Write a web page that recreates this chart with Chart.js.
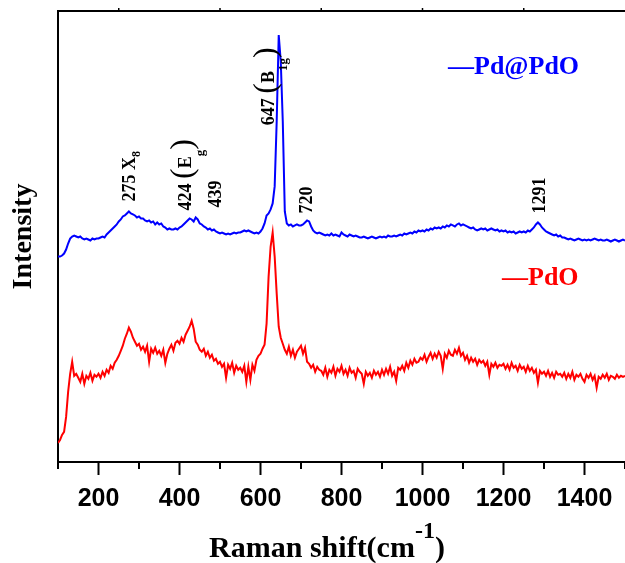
<!DOCTYPE html>
<html>
<head>
<meta charset="utf-8">
<script src="https://cdn.jsdelivr.net/npm/chart.js@4.4.1/dist/chart.umd.min.js"></script>
<style>
  html, body { margin: 0; padding: 0; background: #fff; }
  canvas { display: block; }
</style>
</head>
<body>
<canvas id="ramanChart" width="625" height="563"></canvas>
<script>
// Raman shift grid (cm-1), 5 cm-1 step from 100 to 1500
const ramanShift = [];
for (let v = 100; v <= 1500; v += 5) ramanShift.push(v);

// Pd@PdO intensity (a.u., offset trace)
const pdPdO = [
  205, 205, 206, 208, 212, 218, 223, 225, 226, 225,
  224, 225, 223, 222, 223, 222, 221, 223, 222, 223,
  223, 224, 225, 224, 227, 229, 231, 233, 235, 237,
  240, 242, 245, 246, 248, 250, 248, 247, 246, 244,
  245, 243, 243, 241, 240, 241, 239, 240, 237, 239,
  237, 238, 235, 234, 232, 233, 232, 232, 233, 232,
  234, 235, 237, 239, 241, 243, 242, 240, 244, 242,
  238, 237, 235, 234, 232, 233, 231, 232, 230, 229,
  228, 229, 228, 227, 228, 227, 228, 229, 228, 229,
  229, 230, 231, 230, 231, 230, 229, 228, 229, 228,
  230, 233, 238, 246, 248, 252, 258, 275, 340, 426,
  400, 340, 250, 238, 236, 237, 235, 236, 237, 236,
  236, 237, 239, 241, 240, 235, 231, 229, 228, 229,
  228, 227, 226, 227, 226, 228, 226, 227, 226, 225,
  229, 227, 226, 225, 227, 226, 225, 226, 225, 224,
  224, 225, 224, 223, 224, 225, 224, 223, 224, 225,
  224, 225, 224, 226, 225, 225, 226, 225, 226, 227,
  226, 228, 227, 228, 229, 228, 230, 229, 231, 230,
  231, 230, 232, 231, 233, 232, 234, 233, 234, 233,
  235, 234, 236, 235, 237, 236, 235, 237, 238, 236,
  237, 236, 235, 234, 233, 234, 232, 231, 232, 233,
  232, 233, 231, 232, 233, 232, 231, 232, 230, 231,
  230, 231, 229, 230, 229, 230, 228, 229, 230, 229,
  230, 229, 231, 230, 232, 234, 237, 239, 237, 234,
  232, 230, 229, 228, 227, 226, 227, 225, 226, 224,
  224, 223, 222, 223, 222, 221, 222, 223, 222, 221,
  222, 221, 222, 221, 222, 223, 222, 221, 222, 221,
  221, 222, 221, 220, 221, 222, 221, 220, 221, 222,
  221
];

// PdO intensity (a.u.)
const pdO = [
  19, 22, 27, 30, 45, 70, 88, 100, 86, 88,
  84, 80, 88, 78, 86, 83, 89, 81, 87, 85,
  88, 84, 90, 86, 92, 89, 96, 93, 99, 102,
  106, 111, 116, 123, 128, 134, 130, 124, 120, 116,
  118, 112, 115, 110, 116, 100, 113, 109, 114, 108,
  111, 106, 112, 99, 108, 113, 117, 111, 119, 121,
  118, 124, 120, 127, 131, 135, 141, 133, 120, 117,
  112, 110, 113, 106, 110, 104, 107, 101, 103, 98,
  100, 95, 98, 84, 97, 93, 99, 89, 96, 92,
  94, 90, 96, 80, 95, 82, 97, 91, 102, 106,
  108, 113, 117, 138, 185, 215, 229, 205, 168, 135,
  124, 118, 112, 108, 115, 106, 112, 104, 110, 113,
  116, 108, 114, 100, 98, 94, 97, 90, 95, 92,
  91, 87, 94, 85, 92, 89, 95, 86, 93, 90,
  96, 88, 92, 86, 94, 89, 91, 84, 93, 90,
  88, 78, 90, 86, 89, 84, 91, 87, 90, 85,
  92, 87, 93, 88, 95, 86, 90, 81, 94, 92,
  96, 91, 99, 94, 101, 97, 103, 99, 100, 104,
  102, 107, 100, 105, 109, 103, 108, 104, 110, 106,
  93, 108, 104, 111, 107, 106, 112, 108, 114, 106,
  109, 102, 106, 99, 104, 100, 103, 97, 102, 99,
  101, 96, 100, 87, 98, 95, 99, 94, 97, 96,
  98, 93, 97, 92, 99, 94, 96, 91, 97, 93,
  95, 90, 96, 91, 94, 89, 92, 79, 91, 88,
  90, 86, 91, 85, 89, 84, 90, 87, 88, 85,
  89, 83, 88, 84, 90, 82, 87, 85, 88, 83,
  80, 87, 84, 88, 82, 86, 74, 85, 83, 87,
  84, 88, 82, 86, 85, 83, 87, 84, 86, 85,
  86
];

const seriesNames = ["Pd@PdO", "PdO"];
const seriesColors = ["#0000ff", "#ff0000"];

// x-axis tick labels (only every other 100 is labelled)
const xLabelTicks = [200, 400, 600, 800, 1000, 1200, 1400];
const xMinorTicks = [100, 300, 500, 700, 900, 1100, 1300, 1500];
const topFrameTicks = [250, 500, 750, 1000, 1250];

// peak annotations: anchor (shift, intensity) of the label's lower end
const peakX = [278, 418, 492, 623, 715, 1292];
const peakY = [260, 251, 254, 336, 248, 248];
// kind 0 = text, 1 = subscript, 2 = large bracket, 3 = close subscript
const peakText = [
  [["275 X", 0], ["8", 3]],
  [["424 ", 0], ["(", 2], ["E", 0], ["g", 1], [")", 2]],
  [["439", 0]],
  [["647 ", 0], ["(", 2], ["B", 0], ["1g", 1], [")", 2]],
  [["720", 0]],
  [["1291", 0]],
];

const SERIF = '"Liberation Serif", "Times New Roman", serif';
const SANS = '"Liberation Sans", Arial, sans-serif';

function drawPeakLabel(ctx, cx, by, parts) {
  const fonts = ["bold 18px ", "bold 13px ", "32px ", "bold 12px "];
  const shifts = [0, 14, -3, 7];
  ctx.save();
  ctx.translate(cx, by);
  ctx.rotate(-Math.PI / 2);
  ctx.textBaseline = "middle";
  ctx.textAlign = "left";
  ctx.fillStyle = "#000";
  let pos = 0;
  parts.forEach(([t, kind]) => {
    ctx.font = fonts[kind] + SERIF;
    ctx.fillText(t, pos, shifts[kind]);
    pos += ctx.measureText(t).width;
  });
  ctx.restore();
}

const decorPlugin = {
  id: "decor",
  afterDraw(chart) {
    const { ctx, chartArea: a, scales } = chart;
    const x = scales.x;
    const y = scales.y;
    ctx.save();

    // top frame line with tiny ticks
    ctx.strokeStyle = "#000";
    ctx.lineWidth = 2;
    ctx.beginPath();
    ctx.moveTo(a.left - 1, a.top);
    ctx.lineTo(a.right, a.top);
    ctx.stroke();
    ctx.lineWidth = 1.5;
    topFrameTicks.forEach((v) => {
      const px = x.getPixelForValue(v);
      ctx.beginPath();
      ctx.moveTo(px, a.top);
      ctx.lineTo(px, a.top - 3);
      ctx.stroke();
    });

    // bottom axis tick marks: long at labelled values, short between
    ctx.lineWidth = 2;
    const tickMark = (v, len) => {
      const px = x.getPixelForValue(v);
      ctx.beginPath();
      ctx.moveTo(px, a.bottom);
      ctx.lineTo(px, a.bottom + len);
      ctx.stroke();
    };
    xLabelTicks.forEach((v) => tickMark(v, 13));
    xMinorTicks.forEach((v) => tickMark(v, 7));

    // peak labels
    peakText.forEach((parts, i) => {
      drawPeakLabel(ctx, x.getPixelForValue(peakX[i]), y.getPixelForValue(peakY[i]), parts);
    });

    // legend entries placed next to each trace
    ctx.font = "bold 26px " + SERIF;
    ctx.textBaseline = "alphabetic";
    ctx.textAlign = "left";
    ctx.fillStyle = seriesColors[0];
    ctx.fillText("\u2014" + seriesNames[0], 448, 74);
    ctx.fillStyle = seriesColors[1];
    ctx.fillText("\u2014" + seriesNames[1], 502, 285);

    // y title
    ctx.fillStyle = "#000";
    ctx.save();
    ctx.translate(24, (a.top + a.bottom) / 2);
    ctx.rotate(-Math.PI / 2);
    ctx.font = "bold 28px " + SERIF;
    ctx.textAlign = "center";
    ctx.textBaseline = "middle";
    ctx.fillText("Intensity", 0, 0);
    ctx.restore();

    // x title with superscript
    const main = "Raman shift(cm";
    const sup = "-1";
    const close = ")";
    ctx.textAlign = "left";
    ctx.textBaseline = "alphabetic";
    ctx.font = "bold 30px " + SERIF;
    const w1 = ctx.measureText(main).width;
    const w3 = ctx.measureText(close).width;
    ctx.font = "bold 24px " + SERIF;
    const w2 = ctx.measureText(sup).width;
    const sx = 327 - (w1 + w2 + w3) / 2;
    const base = 557;
    ctx.font = "bold 30px " + SERIF;
    ctx.fillText(main, sx, base);
    ctx.font = "bold 24px " + SERIF;
    ctx.fillText(sup, sx + w1, base - 19);
    ctx.font = "bold 30px " + SERIF;
    ctx.fillText(close, sx + w1 + w2, base);

    ctx.restore();
  },
};

function initChart() {
  const canvas = document.getElementById("ramanChart");
  new Chart(canvas.getContext("2d"), {
    type: "line",
    data: {
      datasets: [
        {
          label: seriesNames[0],
          data: pdPdO.map((v, i) => ({ x: ramanShift[i], y: v })),
          borderColor: seriesColors[0],
          borderWidth: 2,
          pointRadius: 0,
          tension: 0,
        },
        {
          label: seriesNames[1],
          data: pdO.map((v, i) => ({ x: ramanShift[i], y: v })),
          borderColor: seriesColors[1],
          borderWidth: 2,
          pointRadius: 0,
          tension: 0,
        },
      ],
    },
    options: {
      responsive: false,
      animation: false,
      layout: { padding: { left: 50, top: 11, right: 0, bottom: 49 } },
      plugins: {
        legend: { display: false },
        tooltip: { enabled: false },
      },
      scales: {
        x: {
          type: "linear",
          min: 100,
          max: 1500,
          ticks: {
            stepSize: 100,
            autoSkip: false,
            maxRotation: 0,
            padding: 0,
            color: "#000",
            font: { family: SANS, size: 25, weight: "bold" },
            callback: (v) => (xLabelTicks.includes(v) ? String(v) : ""),
          },
          grid: {
            display: true,
            drawOnChartArea: false,
            drawTicks: true,
            tickLength: 22,
            tickColor: "rgba(0,0,0,0)",
          },
          border: { display: true, color: "#000", width: 2 },
        },
        y: {
          min: 0,
          max: 450,
          ticks: { display: false },
          grid: { display: false },
          border: { display: true, color: "#000", width: 2 },
        },
      },
    },
    plugins: [decorPlugin],
  });
}

document.addEventListener("DOMContentLoaded", initChart);
</script>
</body>
</html>
